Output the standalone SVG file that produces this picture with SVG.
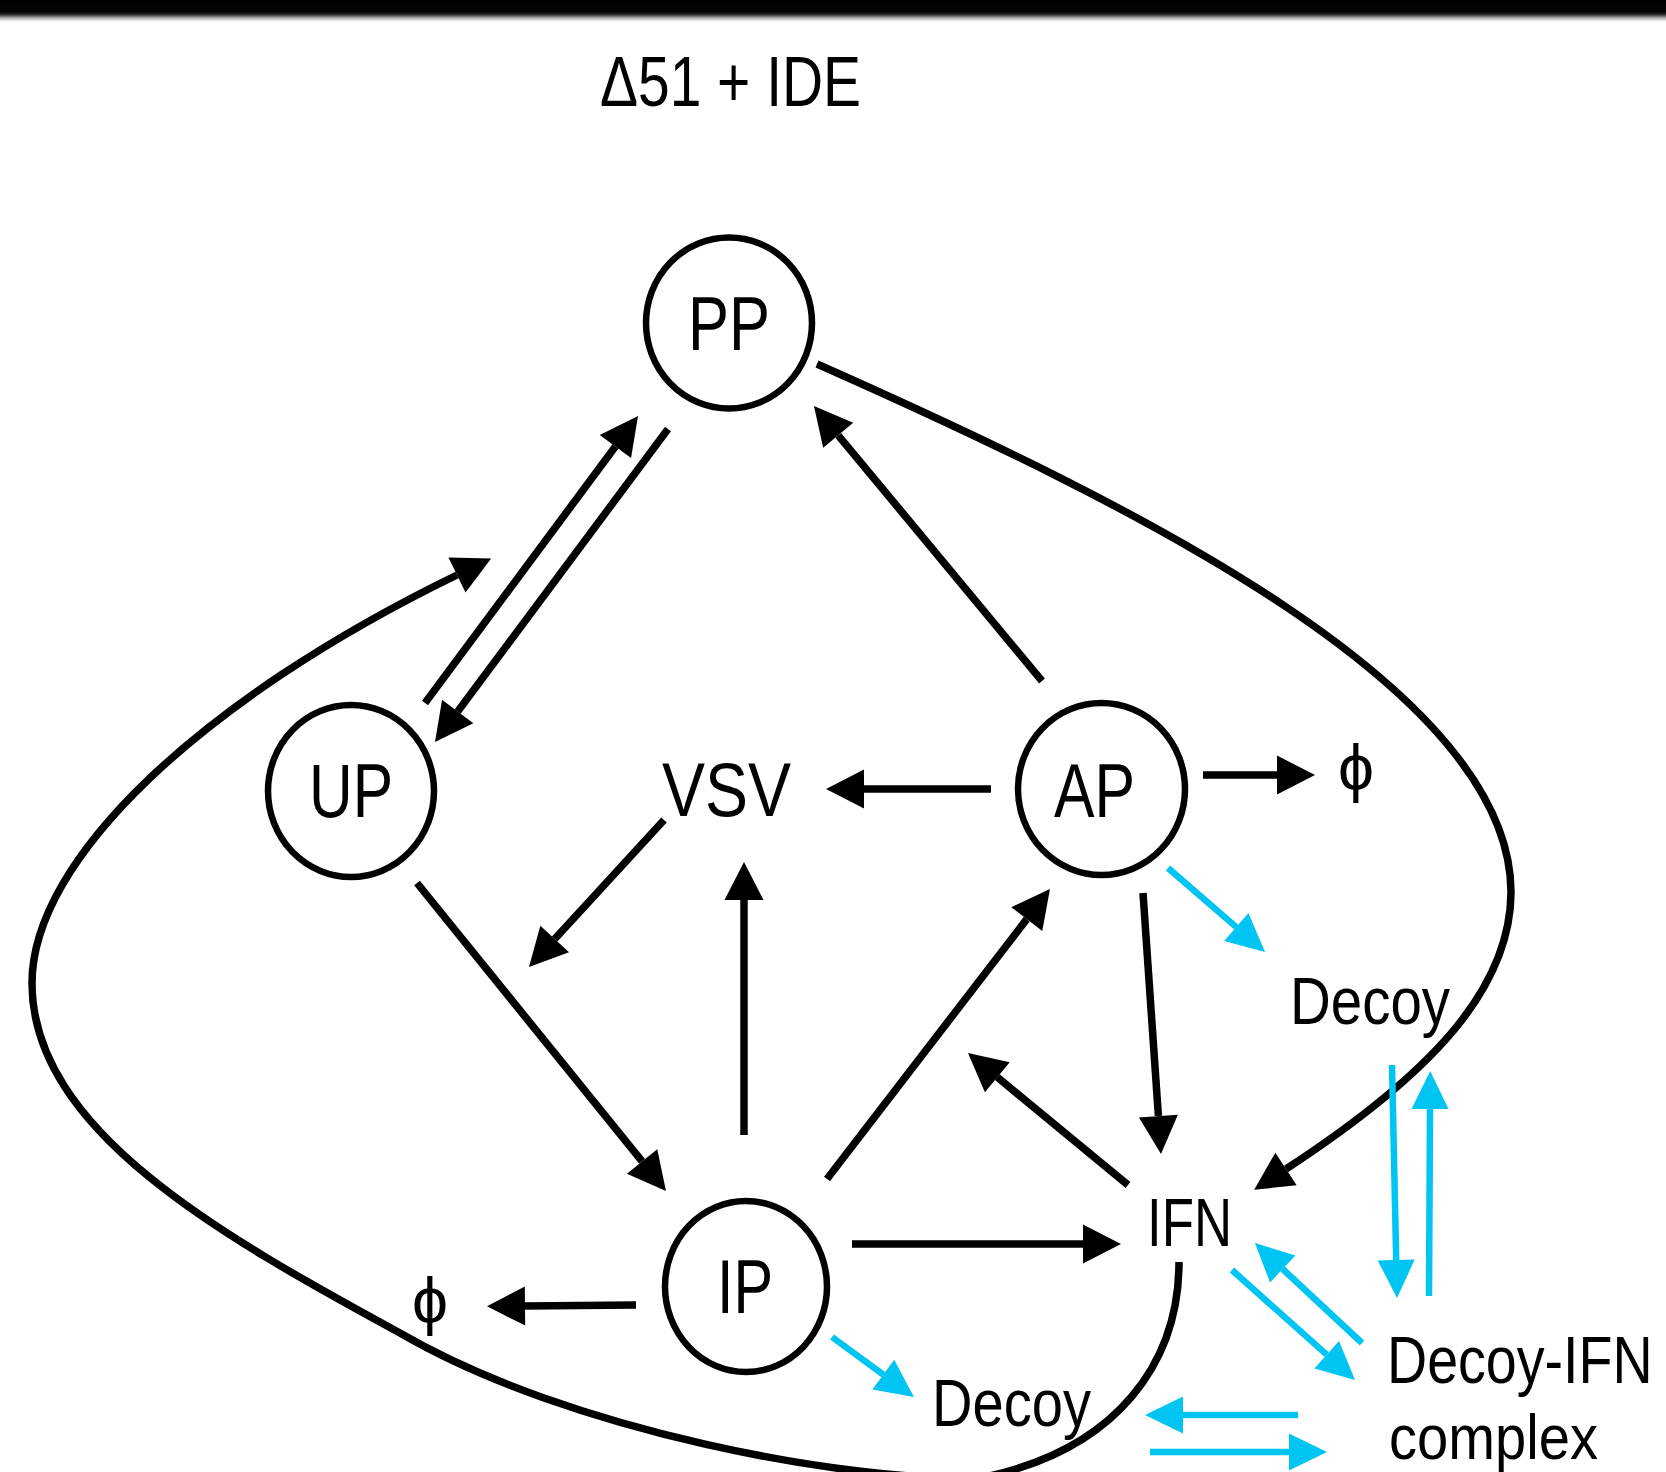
<svg xmlns="http://www.w3.org/2000/svg" width="1666" height="1472" viewBox="0 0 1666 1472">
  <style>
    .node { fill: none; stroke: #000; stroke-width: 6.5; }
    .lbl { font-family: "Liberation Sans", Arial, "DejaVu Sans", sans-serif; fill: #000; }
    .blk { fill: none; stroke: #000; stroke-width: 7.5; marker-end: url(#headK); }
    .cyn { fill: none; stroke: #00C4F2; stroke-width: 6.5; marker-end: url(#headC); }
  </style>
  <defs>
    <linearGradient id="bar" x1="0" y1="0" x2="0" y2="1">
      <stop offset="0" stop-color="#000"/>
      <stop offset="0.55" stop-color="#050505"/>
      <stop offset="0.68" stop-color="#3a3a3a"/>
      <stop offset="0.82" stop-color="#b0b0b0"/>
      <stop offset="1" stop-color="#fff"/>
    </linearGradient>
    <marker id="headK" markerUnits="userSpaceOnUse" markerWidth="40" markerHeight="40" viewBox="0 -20 40 40" refX="0" refY="0" orient="auto" overflow="visible">
      <path d="M0,-19.5 L38,0 L0,19.5 Z" fill="#000"/>
    </marker>
    <marker id="headC" markerUnits="userSpaceOnUse" markerWidth="40" markerHeight="40" viewBox="0 -20 40 40" refX="0" refY="0" orient="auto" overflow="visible">
      <path d="M0,-18.5 L38,0 L0,18.5 Z" fill="#00C4F2"/>
    </marker>
  </defs>

  <rect x="0" y="0" width="1666" height="1472" fill="#fff"/>
  <rect x="0" y="0" width="1666" height="22" fill="url(#bar)"/>

  <text class="lbl" x="600" y="106" font-size="71" textLength="261" lengthAdjust="spacingAndGlyphs">Δ51 + IDE</text>

  <g id="connectors">
    <!-- black -->
    <line class="blk" x1="425" y1="703" x2="615.4" y2="446.5"/>
    <line class="blk" x1="668" y1="429" x2="457.7" y2="711.5"/>
    <path class="blk" d="M817,364 C1135,505 1512,690 1511,893 C1510,990 1430,1075 1286,1169"/>
    <line class="blk" x1="1042" y1="681" x2="838.2" y2="435.3"/>
    <line class="blk" x1="991" y1="789" x2="864" y2="789"/>
    <line class="blk" x1="1203" y1="775" x2="1277" y2="775"/>
    <line class="blk" x1="1143" y1="893" x2="1158.4" y2="1116.1"/>
    <line class="blk" x1="1128" y1="1185" x2="997.3" y2="1077.2"/>
    <line class="blk" x1="827" y1="1179" x2="1026.8" y2="919.1"/>
    <line class="blk" x1="744" y1="1135" x2="744" y2="900"/>
    <line class="blk" x1="664" y1="820" x2="554.7" y2="939"/>
    <line class="blk" x1="417" y1="883" x2="642.1" y2="1161.4"/>
    <line class="blk" x1="852" y1="1244" x2="1083" y2="1244"/>
    <line class="blk" x1="636" y1="1305" x2="525" y2="1306"/>
    <path class="blk" d="M1179,1262 C1179,1360 1120,1450 980,1478 C850,1482 570,1432 400,1333 C220,1235 32,1130 32,983 C32,860 200,700 457,575"/>
    <!-- cyan -->
    <line class="cyn" x1="1168" y1="868" x2="1236.3" y2="927.1"/>
    <line class="cyn" x1="832" y1="1337" x2="883.3" y2="1374.6"/>
    <line class="cyn" x1="1392" y1="1065" x2="1396.2" y2="1260"/>
    <line class="cyn" x1="1429" y1="1296" x2="1430" y2="1109"/>
    <line class="cyn" x1="1232" y1="1270" x2="1326.7" y2="1354.7"/>
    <line class="cyn" x1="1362" y1="1343" x2="1282.7" y2="1269"/>
    <line class="cyn" x1="1298" y1="1415" x2="1183" y2="1415"/>
    <line class="cyn" x1="1150" y1="1452" x2="1289" y2="1452"/>
  </g>

  <g id="PP">
    <ellipse class="node" cx="729" cy="323" rx="83" ry="85.5"/>
    <text class="lbl" x="688" y="350" font-size="76" textLength="82" lengthAdjust="spacingAndGlyphs">PP</text>
  </g>
  <g id="UP">
    <ellipse class="node" cx="351" cy="791" rx="83" ry="86"/>
    <text class="lbl" x="309" y="817" font-size="76" textLength="84" lengthAdjust="spacingAndGlyphs">UP</text>
  </g>
  <g id="AP">
    <ellipse class="node" cx="1101.5" cy="789" rx="83.5" ry="86"/>
    <text class="lbl" x="1054" y="817" font-size="76" textLength="81" lengthAdjust="spacingAndGlyphs">AP</text>
  </g>
  <g id="IP">
    <ellipse class="node" cx="746" cy="1286.5" rx="81" ry="85.5"/>
    <text class="lbl" x="717" y="1313" font-size="76" textLength="56" lengthAdjust="spacingAndGlyphs">IP</text>
  </g>
  <g id="VSV">
    <text class="lbl" x="662" y="816" font-size="76" textLength="129" lengthAdjust="spacingAndGlyphs">VSV</text>
  </g>
  <g id="IFN">
    <text class="lbl" x="1147" y="1246" font-size="68" textLength="85" lengthAdjust="spacingAndGlyphs">IFN</text>
  </g>
  <g id="phi-AP">
    <text class="lbl" x="1338" y="790" font-size="64" textLength="36" lengthAdjust="spacingAndGlyphs">ϕ</text>
  </g>
  <g id="phi-IP">
    <text class="lbl" x="412" y="1323" font-size="64" textLength="36" lengthAdjust="spacingAndGlyphs">ϕ</text>
  </g>
  <g id="Decoy-AP">
    <text class="lbl" x="1290" y="1024" font-size="67" textLength="160" lengthAdjust="spacingAndGlyphs">Decoy</text>
  </g>
  <g id="Decoy-IP">
    <text class="lbl" x="932" y="1426" font-size="67" textLength="159" lengthAdjust="spacingAndGlyphs">Decoy</text>
  </g>
  <g id="Decoy-IFN-complex">
    <text class="lbl" transform="translate(1387,1383) scale(0.83,1)" x="0" y="0" font-size="67">Decoy-IFN</text>
    <text class="lbl" x="1389" y="1459" font-size="63" textLength="209" lengthAdjust="spacingAndGlyphs">complex</text>
  </g>
</svg>
